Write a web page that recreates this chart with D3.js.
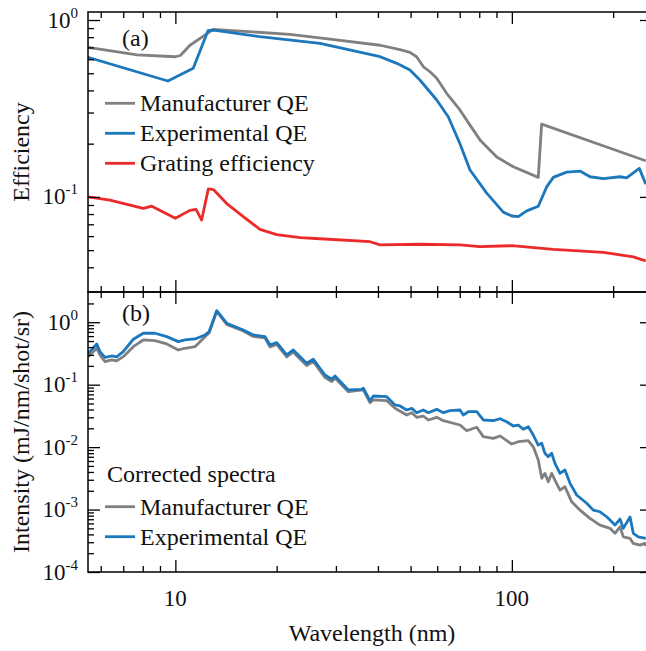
<!DOCTYPE html>
<html>
<head>
<meta charset="utf-8">
<script src="https://cdn.jsdelivr.net/npm/d3@7"></script>
<style>
  body { margin: 0; background: #fff; }
</style>
</head>
<body>
<div id="chart"></div>
<script>
// values, [wavelength nm, value]
// panel (a) efficiencies
var mfrQE = [[5.5,0.70],[7.7,0.635],[10,0.62],[10.35,0.63],[11.05,0.72],[12.97,0.886],[21.9,0.83],[28.8,0.78],
  [40.6,0.72],[46.5,0.68],[49.8,0.656],[52.1,0.62],[54.6,0.544],[57.1,0.51],[59.8,0.468],[64.0,0.385],
  [70.1,0.31],[75.1,0.2545],[80.4,0.21],[90.2,0.168],[101,0.148],[119.8,0.129],[122.6,0.258],[250,0.16]];

var expQE = [[5.5,0.615],[9.5,0.452],[11.3,0.533],[12.5,0.87],[13,0.878],[17.8,0.805],[26.9,0.738],[40.6,0.62],
  [45.5,0.569],[49.8,0.521],[53.3,0.458],[59.8,0.353],[64.7,0.284],[70.1,0.2],[75.1,0.142],[84.2,0.105],
  [94.3,0.082],[100,0.078],[104.5,0.0774],[110.7,0.0834],[119.8,0.0886],[126.9,0.114],[132.8,0.129],
  [145.5,0.138],[159.4,0.140],[170.7,0.130],[187,0.127],[209.6,0.130],[219.4,0.128],[239.2,0.145],[250,0.118]];

var gratingEff = [[5.5,0.1],[6.39,0.096],[8.03,0.0862],[8.51,0.0886],[10,0.0757],[11.05,0.0839],[11.52,0.085],
  [11.97,0.074],[12.53,0.111],[12.97,0.11],[14.21,0.0917],[15.92,0.0774],[17.84,0.0655],[20.0,0.0612],
  [23.5,0.0589],[26.9,0.058],[37.9,0.0558],[40.6,0.0536],[53.3,0.054],[70.1,0.0536],[80.4,0.0523],
  [99.9,0.053],[132.8,0.0505],[187,0.0486],[229.6,0.0458],[250,0.0435]];

// panel (b) corrected spectra
var specExp = [[5.51,0.318],[5.84,0.449],[5.97,0.338],[6.18,0.273],[6.47,0.288],[6.69,0.278],[7.0,0.338],
  [7.5,0.534],[8.03,0.666],[8.7,0.666],[9.43,0.588],[10.2,0.489],[10.68,0.52],[11.44,0.54],[12.25,0.626],
  [12.59,0.699],[13.27,1.534],[14.21,0.964],[15.92,0.753],[17.04,0.626],[17.84,0.603],[18.47,0.588],
  [19.11,0.433],[20.01,0.471],[21.43,0.299],[22.41,0.36],[23.47,0.281],[24.56,0.22],[25.7,0.255],
  [27.85,0.143],[29.15,0.122],[29.82,0.138],[32.66,0.0823],[35.8,0.0844],[36.19,0.0876],[37.88,0.0554],
  [38.75,0.0659],[42.48,0.0642],[44.96,0.0473],[46.52,0.0456],[48.7,0.0393],[50.4,0.0418],[52.14,0.0356],
  [54.55,0.0393],[56.45,0.0356],[59.8,0.0403],[62.56,0.0356],[65.5,0.0383],[70.14,0.0393],[71.74,0.0327],
  [74.25,0.0369],[78.62,0.0369],[82.25,0.0272],[88.08,0.0265],[92.2,0.0285],[96.54,0.0255],[101.0,0.0218],
  [104.5,0.0226],[108.1,0.0193],[111.9,0.0212],[115.8,0.0156],[119.8,0.0108],[122.7,0.0115],[125.4,0.00796],
  [128.3,0.00702],[131.3,0.00796],[134.3,0.0055],[139.0,0.0038],[143.8,0.0043],[148.9,0.00263],
  [155.8,0.00171],[166.9,0.00126],[174.6,0.00098],[182.8,0.000922],[191.3,0.000767],[195.7,0.000679],
  [202.5,0.000564],[209.6,0.000704],[214.4,0.0005],[224.5,0.000758],[229.6,0.000416],[237.6,0.000366],
  [250,0.000345]];

var specMfr = [[5.51,0.281],[5.84,0.383],[5.97,0.299],[6.18,0.234],[6.47,0.249],[6.69,0.240],[7.0,0.281],
  [7.5,0.406],[8.03,0.52],[8.7,0.507],[9.43,0.449],[10.2,0.36],[10.68,0.383],[11.44,0.406],[12.25,0.588],
  [12.59,0.674],[13.27,1.49],[14.21,0.922],[15.92,0.726],[17.04,0.592],[18.47,0.56],[19.11,0.402],
  [20.01,0.441],[21.43,0.278],[22.41,0.334],[23.47,0.258],[24.56,0.203],[25.7,0.235],[27.85,0.13],
  [29.15,0.112],[29.82,0.128],[32.66,0.0772],[36.19,0.0823],[37.88,0.0515],[38.75,0.0569],[42.48,0.0554],
  [44.96,0.0418],[48.7,0.0327],[50.4,0.0356],[52.14,0.030],[54.55,0.0315],[56.45,0.0272],[59.8,0.030],
  [62.56,0.0265],[66.99,0.0241],[70.14,0.0226],[73.43,0.0183],[78.62,0.0208],[82.25,0.0147],[88.08,0.0138],
  [92.2,0.0151],[99.88,0.0112],[104.5,0.0122],[111.9,0.0127],[115.8,0.0101],[119.8,0.00621],[122.7,0.00316],
  [125.4,0.0038],[128.3,0.00279],[131.3,0.0038],[134.3,0.00297],[139.0,0.00205],[143.8,0.00232],
  [150.6,0.00133],[159.4,0.00098],[170.7,0.000723],[182.8,0.000564],[195.7,0.0005],[202.5,0.000416],
  [209.6,0.00053],[214.4,0.000366],[224.5,0.000345],[229.6,0.000287],[240.4,0.00027],[248.8,0.000287],
  [250,0.00026]];

// tick labels
var xTickLabels = [10, 100];
var effTickLabels = [1, 0.1];
var intTickLabels = [1, 0.1, 0.01, 0.001, 0.0001];

var colors = { mfr: "#808080", exp: "#1c78bc", grating: "#ec2a2a" };

var width = 646, height = 651;
// plot box edges (note: "top" is a reserved window property, so use other names)
var pLeft = 88, pRight = 652, pTop = 12, pMid = 292, pBottom = 572;
var font = "'Liberation Serif', 'Times New Roman', serif";

var svg = d3.select("#chart")
    .append("svg")
    .attr("width", width)
    .attr("height", height)
    .style("font-family", font);

var x = d3.scaleLog().domain([5.5, 260.9]).range([pLeft, pRight]);
var yA = d3.scaleLog().domain([0.029, 1.11]).range([pMid, pTop]);
var yB = d3.scaleLog().domain([1e-4, 3.05]).range([pBottom, pMid]);

// minor tick positions (2..9 per decade)
function minorTicks(lo, hi) {
    var out = [];
    for (var e = -5; e <= 3; e++) {
        for (var k = 2; k <= 9; k++) {
            var v = k * Math.pow(10, e);
            if (v > lo && v < hi) out.push(v);
        }
    }
    return out;
}
var xMinor = minorTicks(5.5, 255);
var yAMinor = minorTicks(0.031, 1.05);
var yBMinor = minorTicks(1e-4, 2.9);

// clip paths
var defs = svg.append("defs");
defs.append("clipPath").attr("id", "clipA").append("rect")
    .attr("x", pLeft).attr("y", pTop).attr("width", pRight - pLeft).attr("height", pMid - pTop);
defs.append("clipPath").attr("id", "clipB").append("rect")
    .attr("x", pLeft).attr("y", pMid).attr("width", pRight - pLeft).attr("height", pBottom - pMid);

// curves
function drawLine(data, yScale, color, clip) {
    var line = d3.line()
        .x(function(d) { return x(d[0]); })
        .y(function(d) { return yScale(d[1]); });
    svg.append("path")
        .datum(data)
        .attr("clip-path", "url(#" + clip + ")")
        .attr("fill", "none")
        .attr("stroke", color)
        .attr("stroke-width", 2.8)
        .attr("stroke-linejoin", "round")
        .attr("d", line);
}
drawLine(gratingEff, yA, colors.grating, "clipA");
drawLine(mfrQE, yA, colors.mfr, "clipA");
drawLine(expQE, yA, colors.exp, "clipA");
drawLine(specMfr, yB, colors.mfr, "clipB");
drawLine(specExp, yB, colors.exp, "clipB");

// axes (ticks only, labels drawn by hand)
var majorLen = 12, minorLen = 6;
function addAxis(axisFn, scale, y0, x0, values, len) {
    var g = svg.append("g")
        .attr("transform", "translate(" + x0 + "," + y0 + ")")
        .call(axisFn(scale).tickValues(values).tickSize(len).tickFormat(""));
    g.select(".domain").remove();
    g.selectAll("line").attr("stroke", "#000").attr("stroke-width", 1.3);
}
var xMajor = [10, 100];
// top border: ticks pointing down
addAxis(d3.axisTop, x, pTop, 0, xMajor, -majorLen);
addAxis(d3.axisTop, x, pTop, 0, xMinor, -minorLen);
// shared middle border: ticks both ways
addAxis(d3.axisTop, x, pMid, 0, xMajor, majorLen);
addAxis(d3.axisTop, x, pMid, 0, xMinor, minorLen);
addAxis(d3.axisBottom, x, pMid, 0, xMajor, majorLen);
addAxis(d3.axisBottom, x, pMid, 0, xMinor, minorLen);
// bottom border: ticks pointing up
addAxis(d3.axisBottom, x, pBottom, 0, xMajor, -majorLen);
addAxis(d3.axisBottom, x, pBottom, 0, xMinor, -minorLen);
// left axes
addAxis(d3.axisRight, yA, 0, pLeft, effTickLabels, majorLen);
addAxis(d3.axisRight, yA, 0, pLeft, yAMinor, minorLen);
addAxis(d3.axisRight, yB, 0, pLeft, intTickLabels, majorLen);
addAxis(d3.axisRight, yB, 0, pLeft, yBMinor, minorLen);
// right axes, major only
addAxis(d3.axisLeft, yA, 0, pRight, effTickLabels, majorLen);
addAxis(d3.axisLeft, yB, 0, pRight, intTickLabels, majorLen);

// frames
[[pTop, pMid], [pMid, pBottom]].forEach(function(p) {
    svg.append("rect")
        .attr("x", pLeft).attr("y", p[0])
        .attr("width", pRight - pLeft).attr("height", p[1] - p[0])
        .attr("fill", "none").attr("stroke", "#000").attr("stroke-width", 1.5);
});

// y tick labels as 10^n
function powLabels(scale, values) {
    values.forEach(function(v) {
        var t = svg.append("text")
            .attr("x", 78)
            .attr("y", scale(v) + 7.5)
            .attr("text-anchor", "end")
            .attr("font-size", 23)
            .attr("fill", "#111");
        t.append("tspan").text("10");
        t.append("tspan").attr("dy", -10).attr("font-size", 15)
            .text(Math.round(Math.log10(v)));
    });
}
powLabels(yA, effTickLabels);
powLabels(yB, intTickLabels);

// x tick labels
svg.selectAll(".xlab")
    .data(xTickLabels)
    .enter().append("text")
    .attr("x", function(d) { return x(d); })
    .attr("y", 606)
    .attr("text-anchor", "middle")
    .attr("font-size", 23)
    .attr("fill", "#111")
    .text(function(d) { return d; });

// axis titles
svg.append("text")
    .attr("x", 372).attr("y", 641)
    .attr("text-anchor", "middle")
    .attr("font-size", 24).attr("fill", "#111")
    .text("Wavelength (nm)");
svg.append("text")
    .attr("transform", "translate(29," + ((pTop + pMid) / 2) + ") rotate(-90)")
    .attr("text-anchor", "middle")
    .attr("font-size", 24).attr("fill", "#111")
    .text("Efficiency");
svg.append("text")
    .attr("transform", "translate(29," + ((pMid + pBottom) / 2) + ") rotate(-90)")
    .attr("text-anchor", "middle")
    .attr("font-size", 24).attr("fill", "#111")
    .text("Intensity (mJ/nm/shot/sr)");

// panel labels
svg.append("text").attr("x", 122).attr("y", 46).attr("font-size", 24).attr("fill", "#111").text("(a)");
svg.append("text").attr("x", 122).attr("y", 321).attr("font-size", 24).attr("fill", "#111").text("(b)");

// legends
function legendRow(yLine, color, label) {
    svg.append("line")
        .attr("x1", 105).attr("x2", 135)
        .attr("y1", yLine).attr("y2", yLine)
        .attr("stroke", color).attr("stroke-width", 2.8);
    svg.append("text")
        .attr("x", 140).attr("y", yLine + 8)
        .attr("font-size", 24).attr("fill", "#111")
        .text(label);
}
legendRow(103.3, colors.mfr, "Manufacturer QE");
legendRow(133.3, colors.exp, "Experimental QE");
legendRow(163.3, colors.grating, "Grating efficiency");

svg.append("text").attr("x", 107).attr("y", 482).attr("font-size", 24).attr("fill", "#111").text("Corrected spectra");
legendRow(506.7, colors.mfr, "Manufacturer QE");
legendRow(536.7, colors.exp, "Experimental QE");
</script>
</body>
</html>
